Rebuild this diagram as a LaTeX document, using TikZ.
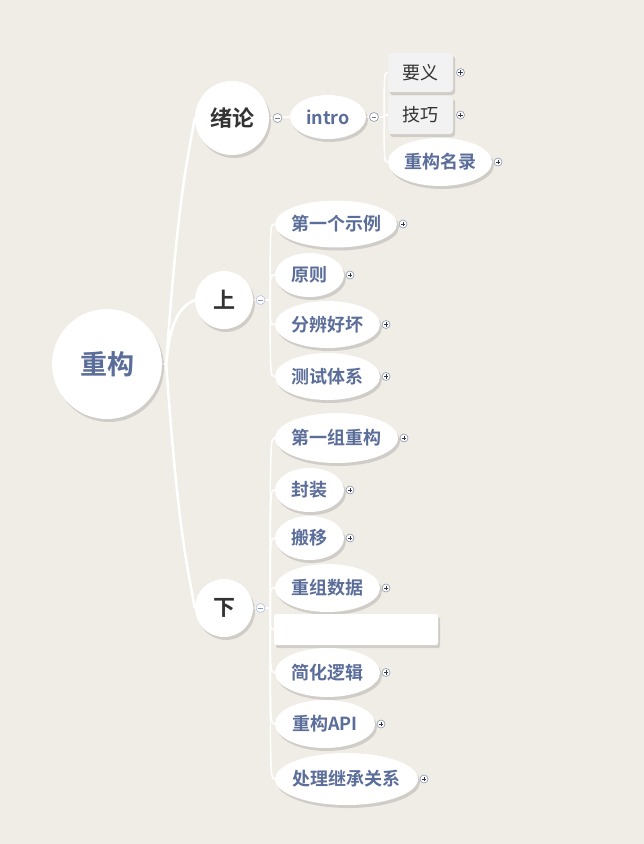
\documentclass[tikz,border=0pt]{standalone}
\usepackage{fontspec}
\setmainfont{Noto Sans CJK SC}[BoldFont={Noto Sans CJK SC Bold}]
\usetikzlibrary{positioning}
\usetikzlibrary{shapes.geometric}
\usetikzlibrary{shadows}
\definecolor{paperbg}{HTML}{F0ECE6}
\definecolor{topicblue}{HTML}{5B6D99}
\definecolor{darktext}{HTML}{333333}
\definecolor{cardgray}{HTML}{F2F2F2}
\definecolor{mkline}{HTML}{8E97A8}
\definecolor{mkdark}{HTML}{2E3856}
\definecolor{mkblue}{HTML}{B3C1EA}
\pgfdeclarelayer{paperlayer}
\pgfdeclarelayer{linklayer}
\pgfsetlayers{paperlayer,linklayer,main}
\tikzset{
	softshadow/.style={drop shadow={shadow xshift=2pt,shadow yshift=-3pt,fill=black,opacity=0.13}},
	roottopic/.style={circle, fill=white, softshadow, minimum size=110pt, inner sep=0pt, text=topicblue, font=\fontsize{27}{30}\selectfont\bfseries},
	maintopic/.style={circle, fill=white, softshadow, inner sep=0pt, text=darktext, font=\fontsize{22}{26}\selectfont\bfseries},
	subtopic/.style={ellipse, fill=white, softshadow, inner sep=0pt, inner xsep=-10pt, text=topicblue, font=\fontsize{18}{21}\selectfont\bfseries},
	card/.style={rectangle, rounded corners=3pt, fill=cardgray, softshadow, inner sep=0pt, text=darktext, font=\fontsize{18}{21}\selectfont},
	blankcard/.style={rectangle, rounded corners=2pt, fill=white, softshadow, inner sep=0pt},
	trunk/.style={draw=white, line width=2.6pt, line cap=round},
	twig/.style={draw=white, line width=1.6pt, line cap=round},
	plusmark/.style={circle, draw=mkline, fill=white, line width=0.6pt, minimum size=8pt, inner sep=0pt,
		path picture={\draw[line width=0.7pt, mkdark]
			([xshift=-2.2pt]path picture bounding box.center) -- ([xshift=2.2pt]path picture bounding box.center)
			([yshift=-2.2pt]path picture bounding box.center) -- ([yshift=2.2pt]path picture bounding box.center);}},
	minusmark/.style={circle, draw=#1, fill=white, line width=0.6pt, minimum size=9pt, inner sep=0pt,
		path picture={\draw[line width=0.7pt, #1!70!mkdark]
			([xshift=-2.4pt]path picture bounding box.center) -- ([xshift=2.4pt]path picture bounding box.center);}},
}

\begin{document}
\begin{tikzpicture}[x=1pt,y=-1pt]
	\begin{pgfonlayer}{paperlayer}
		\fill[paperbg] (0,0) rectangle (644,844);
	\end{pgfonlayer}
	\useasboundingbox (0,0) rectangle (644,844);

	% topics
	\node[roottopic] (root) at (107,364) {重构};
	\node[maintopic, minimum size=74pt] (xulun) at (232,118) {绪论};
	\node[maintopic, minimum size=58pt] (shang) at (224,300) {上};
	\node[maintopic, minimum size=58pt] (xia) at (224,608) {下};

	% intro
	\node[subtopic, minimum width=76pt, minimum height=44pt] (intro) at (328,117) {intro};
	\node[card, minimum width=65pt, minimum height=39pt] (yaoyi) at (420.5,72.5) {要义};
	\node[card, minimum width=65pt, minimum height=38pt] (jiqiao) at (420.5,115) {技巧};
	\node[subtopic, minimum width=104pt, minimum height=48pt] (minglu) at (440,162) {重构名录};

	% 上
	\node[subtopic, minimum width=122pt, minimum height=47pt] (s1) at (336,224) {第一个示例};
	\node[subtopic, minimum width=69pt, minimum height=44pt] (s2) at (309.5,275) {原则};
	\node[subtopic, minimum width=105pt, minimum height=47pt] (s3) at (327.5,324.5) {分辨好坏};
	\node[subtopic, minimum width=105pt, minimum height=47pt] (s4) at (327.5,376.5) {测试体系};

	% 下
	\node[subtopic, minimum width=123pt, minimum height=50pt] (x1) at (336.5,438) {第一组重构};
	\node[subtopic, minimum width=69pt, minimum height=44pt] (x2) at (309.5,490) {封装};
	\node[subtopic, minimum width=69pt, minimum height=44pt] (x3) at (309.5,538) {搬移};
	\node[subtopic, minimum width=105pt, minimum height=48pt] (x4) at (327.5,588) {重组数据};
	\node[blankcard, minimum width=164pt, minimum height=31pt] (x5) at (356,629.5) {};
	\node[subtopic, minimum width=105pt, minimum height=49pt] (x6) at (327.5,672.5) {简化逻辑};
	\node[subtopic, minimum width=100pt, minimum height=48pt] (x7) at (325,724) {重构API};
	\node[subtopic, minimum width=143pt, minimum height=52pt] (x8) at (346.5,779) {处理继承关系};

	% expand / collapse marks
	\node[minusmark=mkline, right=3.5pt of xulun] (xulunm) {};
	\node[minusmark=mkline, right=3pt of intro] (introm) {};
	\node[minusmark=mkblue, right=2.5pt of shang] (shangm) {};
	\node[minusmark=mkblue, right=2.5pt of xia] (xiam) {};
	\foreach \n in {yaoyi,jiqiao}
		\node[plusmark, right=3pt of \n] (\n p) {};
	\foreach \n in {minglu,s1,s2,s3,s4,x1,x2,x3,x4,x6,x7,x8}
		\node[plusmark, right=1.5pt of \n] (\n p) {};

	% branches
	\begin{pgfonlayer}{linklayer}
		\coordinate (rj) at ([xshift=4pt]root.east);
		\draw[trunk] (root.east) -- (rj);
		\draw[trunk] (rj) .. controls +(12,-170) and +(-7,40) .. (xulun.west);
		\draw[trunk] (rj) .. controls +(4,-45) and +(-14,6) .. (shang.west);
		\draw[trunk] (rj) .. controls +(12,170) and +(-7,-40) .. (xia.west);
		\draw[twig] (xulun.east) -- (intro.west);
		\coordinate (ij) at ([xshift=18pt]intro.east);
		\draw[twig] (intro.east) -- (ij);
		\foreach \t in {yaoyi,jiqiao,minglu}
			\draw[twig] (ij) .. controls (ij |- \t.west) .. (\t.west);
		\coordinate (sj) at ([xshift=17pt]shang.east);
		\draw[twig] (shang.east) -- (sj);
		\foreach \t in {s1,s2,s3,s4}
			\draw[twig] (sj) .. controls (sj |- \t.west) .. (\t.west);
		\coordinate (xj) at ([xshift=17pt]xia.east);
		\draw[twig] (xia.east) -- (xj);
		\foreach \t in {x1,x2,x3,x4,x5,x6,x7,x8}
			\draw[twig] (xj) .. controls (xj |- \t.west) .. (\t.west);
	\end{pgfonlayer}
\end{tikzpicture}
\end{document}
